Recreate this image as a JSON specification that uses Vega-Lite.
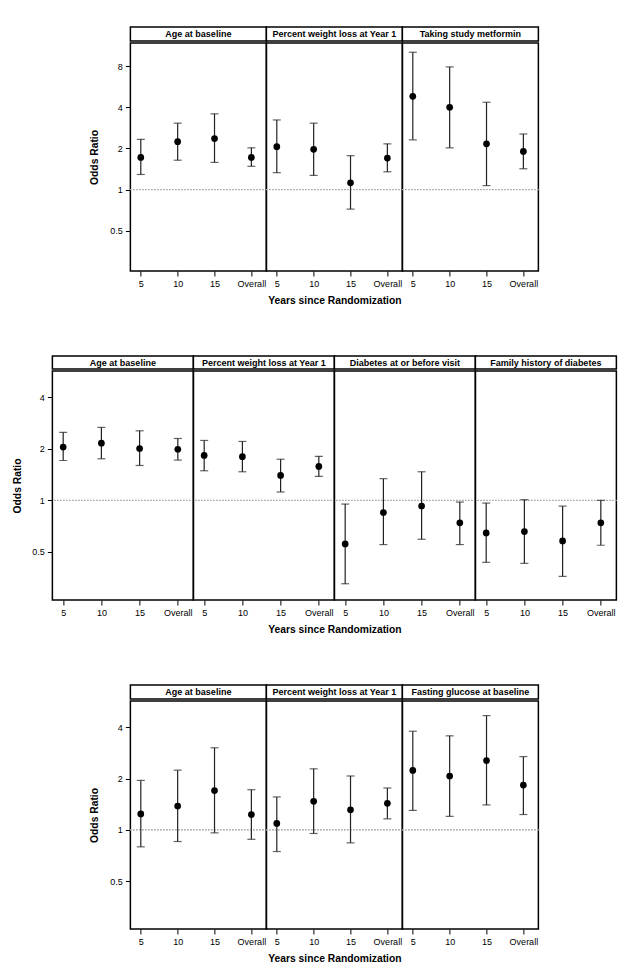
{
"$schema":"https://vega.github.io/schema/vega-lite/v6.json",
"padding":{"left":12,"top":26,"right":0,"bottom":0},
"background":"white",
"datasets":{"d":[
{"p":"A1","year":"5","or":1.72,"lo":1.29,"hi":2.33},{"p":"A1","year":"10","or":2.24,"lo":1.64,"hi":3.06},{"p":"A1","year":"15","or":2.36,"lo":1.58,"hi":3.58},{"p":"A1","year":"Overall","or":1.72,"lo":1.48,"hi":2.02},
{"p":"A2","year":"5","or":2.06,"lo":1.33,"hi":3.23},{"p":"A2","year":"10","or":1.97,"lo":1.27,"hi":3.06},{"p":"A2","year":"15","or":1.12,"lo":0.72,"hi":1.77},{"p":"A2","year":"Overall","or":1.70,"lo":1.35,"hi":2.16},
{"p":"A3","year":"5","or":4.81,"lo":2.31,"hi":10.1},{"p":"A3","year":"10","or":4.0,"lo":2.02,"hi":7.89},{"p":"A3","year":"15","or":2.16,"lo":1.07,"hi":4.35},{"p":"A3","year":"Overall","or":1.90,"lo":1.42,"hi":2.55},
{"p":"B1","year":"5","or":2.05,"lo":1.71,"hi":2.50},{"p":"B1","year":"10","or":2.16,"lo":1.75,"hi":2.67},{"p":"B1","year":"15","or":2.01,"lo":1.60,"hi":2.55},{"p":"B1","year":"Overall","or":1.99,"lo":1.72,"hi":2.30},
{"p":"B2","year":"5","or":1.83,"lo":1.49,"hi":2.24},{"p":"B2","year":"10","or":1.80,"lo":1.47,"hi":2.21},{"p":"B2","year":"15","or":1.40,"lo":1.12,"hi":1.74},{"p":"B2","year":"Overall","or":1.58,"lo":1.38,"hi":1.81},
{"p":"B3","year":"5","or":0.557,"lo":0.326,"hi":0.952},{"p":"B3","year":"10","or":0.85,"lo":0.552,"hi":1.34},{"p":"B3","year":"15","or":0.927,"lo":0.593,"hi":1.47},{"p":"B3","year":"Overall","or":0.74,"lo":0.552,"hi":0.978},
{"p":"B4","year":"5","or":0.646,"lo":0.435,"hi":0.965},{"p":"B4","year":"10","or":0.658,"lo":0.429,"hi":1.01},{"p":"B4","year":"15","or":0.58,"lo":0.36,"hi":0.926},{"p":"B4","year":"Overall","or":0.74,"lo":0.547,"hi":1.0},
{"p":"C1","year":"5","or":1.24,"lo":0.795,"hi":1.95},{"p":"C1","year":"10","or":1.38,"lo":0.854,"hi":2.24},{"p":"C1","year":"15","or":1.70,"lo":0.96,"hi":3.03},{"p":"C1","year":"Overall","or":1.23,"lo":0.88,"hi":1.72},
{"p":"C2","year":"5","or":1.09,"lo":0.746,"hi":1.56},{"p":"C2","year":"10","or":1.47,"lo":0.952,"hi":2.28},{"p":"C2","year":"15","or":1.31,"lo":0.839,"hi":2.07},{"p":"C2","year":"Overall","or":1.43,"lo":1.16,"hi":1.76},
{"p":"C3","year":"5","or":2.23,"lo":1.30,"hi":3.79},{"p":"C3","year":"10","or":2.07,"lo":1.20,"hi":3.56},{"p":"C3","year":"15","or":2.55,"lo":1.40,"hi":4.68},{"p":"C3","year":"Overall","or":1.83,"lo":1.23,"hi":2.69}
]},
"vconcat":[
{"vconcat":[
 {"hconcat":[
  {"width":136,"height":14,"data":{"values":[{"t":"Age at baseline"}]},"layer":[{"mark":{"type":"rect","fill":"white","stroke":"black","strokeWidth":1.5},"encoding":{}},{"mark":{"type":"text","fontWeight":"bold","fontSize":9,"baseline":"middle"},"encoding":{"text":{"field":"t"}}}]},
  {"width":136,"height":14,"data":{"values":[{"t":"Percent weight loss at Year 1"}]},"layer":[{"mark":{"type":"rect","fill":"white","stroke":"black","strokeWidth":1.5},"encoding":{}},{"mark":{"type":"text","fontWeight":"bold","fontSize":9,"baseline":"middle"},"encoding":{"text":{"field":"t"}}}]},
  {"width":136,"height":14,"data":{"values":[{"t":"Taking study metformin"}]},"layer":[{"mark":{"type":"rect","fill":"white","stroke":"black","strokeWidth":1.5},"encoding":{}},{"mark":{"type":"text","fontWeight":"bold","fontSize":9,"baseline":"middle"},"encoding":{"text":{"field":"t"}}}]}
 ],"spacing":0,"bounds":"flush"},
 {"hconcat":[
  {"width":136,"height":228,"data":{"name":"d"},"transform":[{"filter":"datum.p==='A1'"}],"layer":[
   {"mark":{"type":"rule","color":"#aaa","strokeDash":[1,2]},"encoding":{"y":{"datum":1,"type":"quantitative","scale":{"type":"log","base":2,"domain":[0.254,11.8],"nice":false},"axis":{"values":[0.5,1,2,4,8],"format":"~g","title":"Odds Ratio","titlePadding":10}}}},
   {"mark":{"type":"errorbar","ticks":{"size":8,"thickness":1.2,"color":"#222"},"rule":{"color":"#222","strokeWidth":1.2}},"encoding":{"x":{"field":"year","type":"ordinal","sort":["5","10","15","Overall"],"scale":{"type":"point","padding":0.345,"align":0.41},"axis":{"title":null,"labelAngle":0}},"y":{"field":"lo","type":"quantitative","scale":{"type":"log","base":2,"domain":[0.254,11.8],"nice":false},"axis":{"values":[0.5,1,2,4,8],"format":"~g","title":"Odds Ratio","titlePadding":10}},"y2":{"field":"hi"}}},
   {"mark":{"type":"circle","size":45,"color":"black","opacity":1},"encoding":{"x":{"field":"year","type":"ordinal","sort":["5","10","15","Overall"],"scale":{"type":"point","padding":0.345,"align":0.41},"axis":{"title":null,"labelAngle":0}},"y":{"field":"or","type":"quantitative","scale":{"type":"log","base":2,"domain":[0.254,11.8],"nice":false},"axis":{"values":[0.5,1,2,4,8],"format":"~g","title":"Odds Ratio","titlePadding":10}}}}
  ]},
  {"width":136,"height":228,"data":{"name":"d"},"transform":[{"filter":"datum.p==='A2'"}],"layer":[
   {"mark":{"type":"rule","color":"#aaa","strokeDash":[1,2]},"encoding":{"y":{"datum":1,"type":"quantitative","scale":{"type":"log","base":2,"domain":[0.254,11.8],"nice":false},"axis":null}}},
   {"mark":{"type":"errorbar","ticks":{"size":8,"thickness":1.2,"color":"#222"},"rule":{"color":"#222","strokeWidth":1.2}},"encoding":{"x":{"field":"year","type":"ordinal","sort":["5","10","15","Overall"],"scale":{"type":"point","padding":0.345,"align":0.41},"axis":{"title":"Years since Randomization","labelAngle":0}},"y":{"field":"lo","type":"quantitative","scale":{"type":"log","base":2,"domain":[0.254,11.8],"nice":false},"axis":null},"y2":{"field":"hi"}}},
   {"mark":{"type":"circle","size":45,"color":"black","opacity":1},"encoding":{"x":{"field":"year","type":"ordinal","sort":["5","10","15","Overall"],"scale":{"type":"point","padding":0.345,"align":0.41},"axis":{"title":"Years since Randomization","labelAngle":0}},"y":{"field":"or","type":"quantitative","scale":{"type":"log","base":2,"domain":[0.254,11.8],"nice":false},"axis":null}}}
  ]},
  {"width":136,"height":228,"data":{"name":"d"},"transform":[{"filter":"datum.p==='A3'"}],"layer":[
   {"mark":{"type":"rule","color":"#aaa","strokeDash":[1,2]},"encoding":{"y":{"datum":1,"type":"quantitative","scale":{"type":"log","base":2,"domain":[0.254,11.8],"nice":false},"axis":null}}},
   {"mark":{"type":"errorbar","ticks":{"size":8,"thickness":1.2,"color":"#222"},"rule":{"color":"#222","strokeWidth":1.2}},"encoding":{"x":{"field":"year","type":"ordinal","sort":["5","10","15","Overall"],"scale":{"type":"point","padding":0.345,"align":0.41},"axis":{"title":null,"labelAngle":0}},"y":{"field":"lo","type":"quantitative","scale":{"type":"log","base":2,"domain":[0.254,11.8],"nice":false},"axis":null},"y2":{"field":"hi"}}},
   {"mark":{"type":"circle","size":45,"color":"black","opacity":1},"encoding":{"x":{"field":"year","type":"ordinal","sort":["5","10","15","Overall"],"scale":{"type":"point","padding":0.345,"align":0.41},"axis":{"title":null,"labelAngle":0}},"y":{"field":"or","type":"quantitative","scale":{"type":"log","base":2,"domain":[0.254,11.8],"nice":false},"axis":null}}}
  ]}
 ],"spacing":0,"bounds":"flush"}
],"spacing":0},
{"vconcat":[
 {"hconcat":[
  {"width":141,"height":13,"data":{"values":[{"t":"Age at baseline"}]},"layer":[{"mark":{"type":"rect","fill":"white","stroke":"black","strokeWidth":1.5},"encoding":{}},{"mark":{"type":"text","fontWeight":"bold","fontSize":9,"baseline":"middle"},"encoding":{"text":{"field":"t"}}}]},
  {"width":141,"height":13,"data":{"values":[{"t":"Percent weight loss at Year 1"}]},"layer":[{"mark":{"type":"rect","fill":"white","stroke":"black","strokeWidth":1.5},"encoding":{}},{"mark":{"type":"text","fontWeight":"bold","fontSize":9,"baseline":"middle"},"encoding":{"text":{"field":"t"}}}]},
  {"width":141,"height":13,"data":{"values":[{"t":"Diabetes at or before visit"}]},"layer":[{"mark":{"type":"rect","fill":"white","stroke":"black","strokeWidth":1.5},"encoding":{}},{"mark":{"type":"text","fontWeight":"bold","fontSize":9,"baseline":"middle"},"encoding":{"text":{"field":"t"}}}]},
  {"width":141,"height":13,"data":{"values":[{"t":"Family history of diabetes"}]},"layer":[{"mark":{"type":"rect","fill":"white","stroke":"black","strokeWidth":1.5},"encoding":{}},{"mark":{"type":"text","fontWeight":"bold","fontSize":9,"baseline":"middle"},"encoding":{"text":{"field":"t"}}}]}
 ],"spacing":0,"bounds":"flush"},
 {"hconcat":[
  {"width":141,"height":229,"data":{"name":"d"},"transform":[{"filter":"datum.p==='B1'"}],"layer":[
   {"mark":{"type":"rule","color":"#aaa","strokeDash":[1,2]},"encoding":{"y":{"datum":1,"type":"quantitative","scale":{"type":"log","base":2,"domain":[0.262,5.7],"nice":false},"axis":{"values":[0.5,1,2,4],"format":"~g","title":"Odds Ratio","titlePadding":9}}}},
   {"mark":{"type":"errorbar","ticks":{"size":8,"thickness":1.2,"color":"#222"},"rule":{"color":"#222","strokeWidth":1.2}},"encoding":{"x":{"field":"year","type":"ordinal","sort":["5","10","15","Overall"],"scale":{"type":"point","padding":0.345,"align":0.41},"axis":{"title":null,"labelAngle":0}},"y":{"field":"lo","type":"quantitative","scale":{"type":"log","base":2,"domain":[0.262,5.7],"nice":false},"axis":{"values":[0.5,1,2,4],"format":"~g","title":"Odds Ratio","titlePadding":9}},"y2":{"field":"hi"}}},
   {"mark":{"type":"circle","size":45,"color":"black","opacity":1},"encoding":{"x":{"field":"year","type":"ordinal","sort":["5","10","15","Overall"],"scale":{"type":"point","padding":0.345,"align":0.41},"axis":{"title":null,"labelAngle":0}},"y":{"field":"or","type":"quantitative","scale":{"type":"log","base":2,"domain":[0.262,5.7],"nice":false},"axis":{"values":[0.5,1,2,4],"format":"~g","title":"Odds Ratio","titlePadding":9}}}}
  ]},
  {"width":141,"height":229,"data":{"name":"d"},"transform":[{"filter":"datum.p==='B2'"}],"layer":[
   {"mark":{"type":"rule","color":"#aaa","strokeDash":[1,2]},"encoding":{"y":{"datum":1,"type":"quantitative","scale":{"type":"log","base":2,"domain":[0.262,5.7],"nice":false},"axis":null}}},
   {"mark":{"type":"errorbar","ticks":{"size":8,"thickness":1.2,"color":"#222"},"rule":{"color":"#222","strokeWidth":1.2}},"encoding":{"x":{"field":"year","type":"ordinal","sort":["5","10","15","Overall"],"scale":{"type":"point","padding":0.345,"align":0.41},"axis":{"title":"Years since Randomization","titleX":141,"labelAngle":0}},"y":{"field":"lo","type":"quantitative","scale":{"type":"log","base":2,"domain":[0.262,5.7],"nice":false},"axis":null},"y2":{"field":"hi"}}},
   {"mark":{"type":"circle","size":45,"color":"black","opacity":1},"encoding":{"x":{"field":"year","type":"ordinal","sort":["5","10","15","Overall"],"scale":{"type":"point","padding":0.345,"align":0.41},"axis":{"title":"Years since Randomization","titleX":141,"labelAngle":0}},"y":{"field":"or","type":"quantitative","scale":{"type":"log","base":2,"domain":[0.262,5.7],"nice":false},"axis":null}}}
  ]},
  {"width":141,"height":229,"data":{"name":"d"},"transform":[{"filter":"datum.p==='B3'"}],"layer":[
   {"mark":{"type":"rule","color":"#aaa","strokeDash":[1,2]},"encoding":{"y":{"datum":1,"type":"quantitative","scale":{"type":"log","base":2,"domain":[0.262,5.7],"nice":false},"axis":null}}},
   {"mark":{"type":"errorbar","ticks":{"size":8,"thickness":1.2,"color":"#222"},"rule":{"color":"#222","strokeWidth":1.2}},"encoding":{"x":{"field":"year","type":"ordinal","sort":["5","10","15","Overall"],"scale":{"type":"point","padding":0.345,"align":0.41},"axis":{"title":null,"labelAngle":0}},"y":{"field":"lo","type":"quantitative","scale":{"type":"log","base":2,"domain":[0.262,5.7],"nice":false},"axis":null},"y2":{"field":"hi"}}},
   {"mark":{"type":"circle","size":45,"color":"black","opacity":1},"encoding":{"x":{"field":"year","type":"ordinal","sort":["5","10","15","Overall"],"scale":{"type":"point","padding":0.345,"align":0.41},"axis":{"title":null,"labelAngle":0}},"y":{"field":"or","type":"quantitative","scale":{"type":"log","base":2,"domain":[0.262,5.7],"nice":false},"axis":null}}}
  ]},
  {"width":141,"height":229,"data":{"name":"d"},"transform":[{"filter":"datum.p==='B4'"}],"layer":[
   {"mark":{"type":"rule","color":"#aaa","strokeDash":[1,2]},"encoding":{"y":{"datum":1,"type":"quantitative","scale":{"type":"log","base":2,"domain":[0.262,5.7],"nice":false},"axis":null}}},
   {"mark":{"type":"errorbar","ticks":{"size":8,"thickness":1.2,"color":"#222"},"rule":{"color":"#222","strokeWidth":1.2}},"encoding":{"x":{"field":"year","type":"ordinal","sort":["5","10","15","Overall"],"scale":{"type":"point","padding":0.345,"align":0.41},"axis":{"title":null,"labelAngle":0}},"y":{"field":"lo","type":"quantitative","scale":{"type":"log","base":2,"domain":[0.262,5.7],"nice":false},"axis":null},"y2":{"field":"hi"}}},
   {"mark":{"type":"circle","size":45,"color":"black","opacity":1},"encoding":{"x":{"field":"year","type":"ordinal","sort":["5","10","15","Overall"],"scale":{"type":"point","padding":0.345,"align":0.41},"axis":{"title":null,"labelAngle":0}},"y":{"field":"or","type":"quantitative","scale":{"type":"log","base":2,"domain":[0.262,5.7],"nice":false},"axis":null}}}
  ]}
 ],"spacing":0,"bounds":"flush"}
],"spacing":0},
{"vconcat":[
 {"hconcat":[
  {"width":136,"height":14,"data":{"values":[{"t":"Age at baseline"}]},"layer":[{"mark":{"type":"rect","fill":"white","stroke":"black","strokeWidth":1.5},"encoding":{}},{"mark":{"type":"text","fontWeight":"bold","fontSize":9,"baseline":"middle"},"encoding":{"text":{"field":"t"}}}]},
  {"width":136,"height":14,"data":{"values":[{"t":"Percent weight loss at Year 1"}]},"layer":[{"mark":{"type":"rect","fill":"white","stroke":"black","strokeWidth":1.5},"encoding":{}},{"mark":{"type":"text","fontWeight":"bold","fontSize":9,"baseline":"middle"},"encoding":{"text":{"field":"t"}}}]},
  {"width":136,"height":14,"data":{"values":[{"t":"Fasting glucose at baseline"}]},"layer":[{"mark":{"type":"rect","fill":"white","stroke":"black","strokeWidth":1.5},"encoding":{}},{"mark":{"type":"text","fontWeight":"bold","fontSize":9,"baseline":"middle"},"encoding":{"text":{"field":"t"}}}]}
 ],"spacing":0,"bounds":"flush"},
 {"hconcat":[
  {"width":136,"height":228,"data":{"name":"d"},"transform":[{"filter":"datum.p==='C1'"}],"layer":[
   {"mark":{"type":"rule","color":"#aaa","strokeDash":[1,2]},"encoding":{"y":{"datum":1,"type":"quantitative","scale":{"type":"log","base":2,"domain":[0.262,5.7],"nice":false},"axis":{"values":[0.5,1,2,4],"format":"~g","title":"Odds Ratio","titlePadding":10}}}},
   {"mark":{"type":"errorbar","ticks":{"size":8,"thickness":1.2,"color":"#222"},"rule":{"color":"#222","strokeWidth":1.2}},"encoding":{"x":{"field":"year","type":"ordinal","sort":["5","10","15","Overall"],"scale":{"type":"point","padding":0.345,"align":0.41},"axis":{"title":null,"labelAngle":0}},"y":{"field":"lo","type":"quantitative","scale":{"type":"log","base":2,"domain":[0.262,5.7],"nice":false},"axis":{"values":[0.5,1,2,4],"format":"~g","title":"Odds Ratio","titlePadding":10}},"y2":{"field":"hi"}}},
   {"mark":{"type":"circle","size":45,"color":"black","opacity":1},"encoding":{"x":{"field":"year","type":"ordinal","sort":["5","10","15","Overall"],"scale":{"type":"point","padding":0.345,"align":0.41},"axis":{"title":null,"labelAngle":0}},"y":{"field":"or","type":"quantitative","scale":{"type":"log","base":2,"domain":[0.262,5.7],"nice":false},"axis":{"values":[0.5,1,2,4],"format":"~g","title":"Odds Ratio","titlePadding":10}}}}
  ]},
  {"width":136,"height":228,"data":{"name":"d"},"transform":[{"filter":"datum.p==='C2'"}],"layer":[
   {"mark":{"type":"rule","color":"#aaa","strokeDash":[1,2]},"encoding":{"y":{"datum":1,"type":"quantitative","scale":{"type":"log","base":2,"domain":[0.262,5.7],"nice":false},"axis":null}}},
   {"mark":{"type":"errorbar","ticks":{"size":8,"thickness":1.2,"color":"#222"},"rule":{"color":"#222","strokeWidth":1.2}},"encoding":{"x":{"field":"year","type":"ordinal","sort":["5","10","15","Overall"],"scale":{"type":"point","padding":0.345,"align":0.41},"axis":{"title":"Years since Randomization","labelAngle":0}},"y":{"field":"lo","type":"quantitative","scale":{"type":"log","base":2,"domain":[0.262,5.7],"nice":false},"axis":null},"y2":{"field":"hi"}}},
   {"mark":{"type":"circle","size":45,"color":"black","opacity":1},"encoding":{"x":{"field":"year","type":"ordinal","sort":["5","10","15","Overall"],"scale":{"type":"point","padding":0.345,"align":0.41},"axis":{"title":"Years since Randomization","labelAngle":0}},"y":{"field":"or","type":"quantitative","scale":{"type":"log","base":2,"domain":[0.262,5.7],"nice":false},"axis":null}}}
  ]},
  {"width":136,"height":228,"data":{"name":"d"},"transform":[{"filter":"datum.p==='C3'"}],"layer":[
   {"mark":{"type":"rule","color":"#aaa","strokeDash":[1,2]},"encoding":{"y":{"datum":1,"type":"quantitative","scale":{"type":"log","base":2,"domain":[0.262,5.7],"nice":false},"axis":null}}},
   {"mark":{"type":"errorbar","ticks":{"size":8,"thickness":1.2,"color":"#222"},"rule":{"color":"#222","strokeWidth":1.2}},"encoding":{"x":{"field":"year","type":"ordinal","sort":["5","10","15","Overall"],"scale":{"type":"point","padding":0.345,"align":0.41},"axis":{"title":null,"labelAngle":0}},"y":{"field":"lo","type":"quantitative","scale":{"type":"log","base":2,"domain":[0.262,5.7],"nice":false},"axis":null},"y2":{"field":"hi"}}},
   {"mark":{"type":"circle","size":45,"color":"black","opacity":1},"encoding":{"x":{"field":"year","type":"ordinal","sort":["5","10","15","Overall"],"scale":{"type":"point","padding":0.345,"align":0.41},"axis":{"title":null,"labelAngle":0}},"y":{"field":"or","type":"quantitative","scale":{"type":"log","base":2,"domain":[0.262,5.7],"nice":false},"axis":null}}}
  ]}
 ],"spacing":0,"bounds":"flush"}
],"spacing":0}
],
"spacing":48,
"center":true,
"config":{
 "font":"Liberation Sans",
 "view":{"stroke":"black","strokeWidth":1.5},
 "text":{"font":"Liberation Sans","color":"black"},
 "axis":{"labelFont":"Liberation Sans","labelFontSize":9,"labelFontWeight":"normal","labelColor":"black","tickColor":"black","tickSize":5,"labelPadding":3,"domain":false,"grid":false,"titleFont":"Liberation Sans","titleFontSize":10.3,"titleFontWeight":"bold","titleColor":"black","titlePadding":7}
}
}
